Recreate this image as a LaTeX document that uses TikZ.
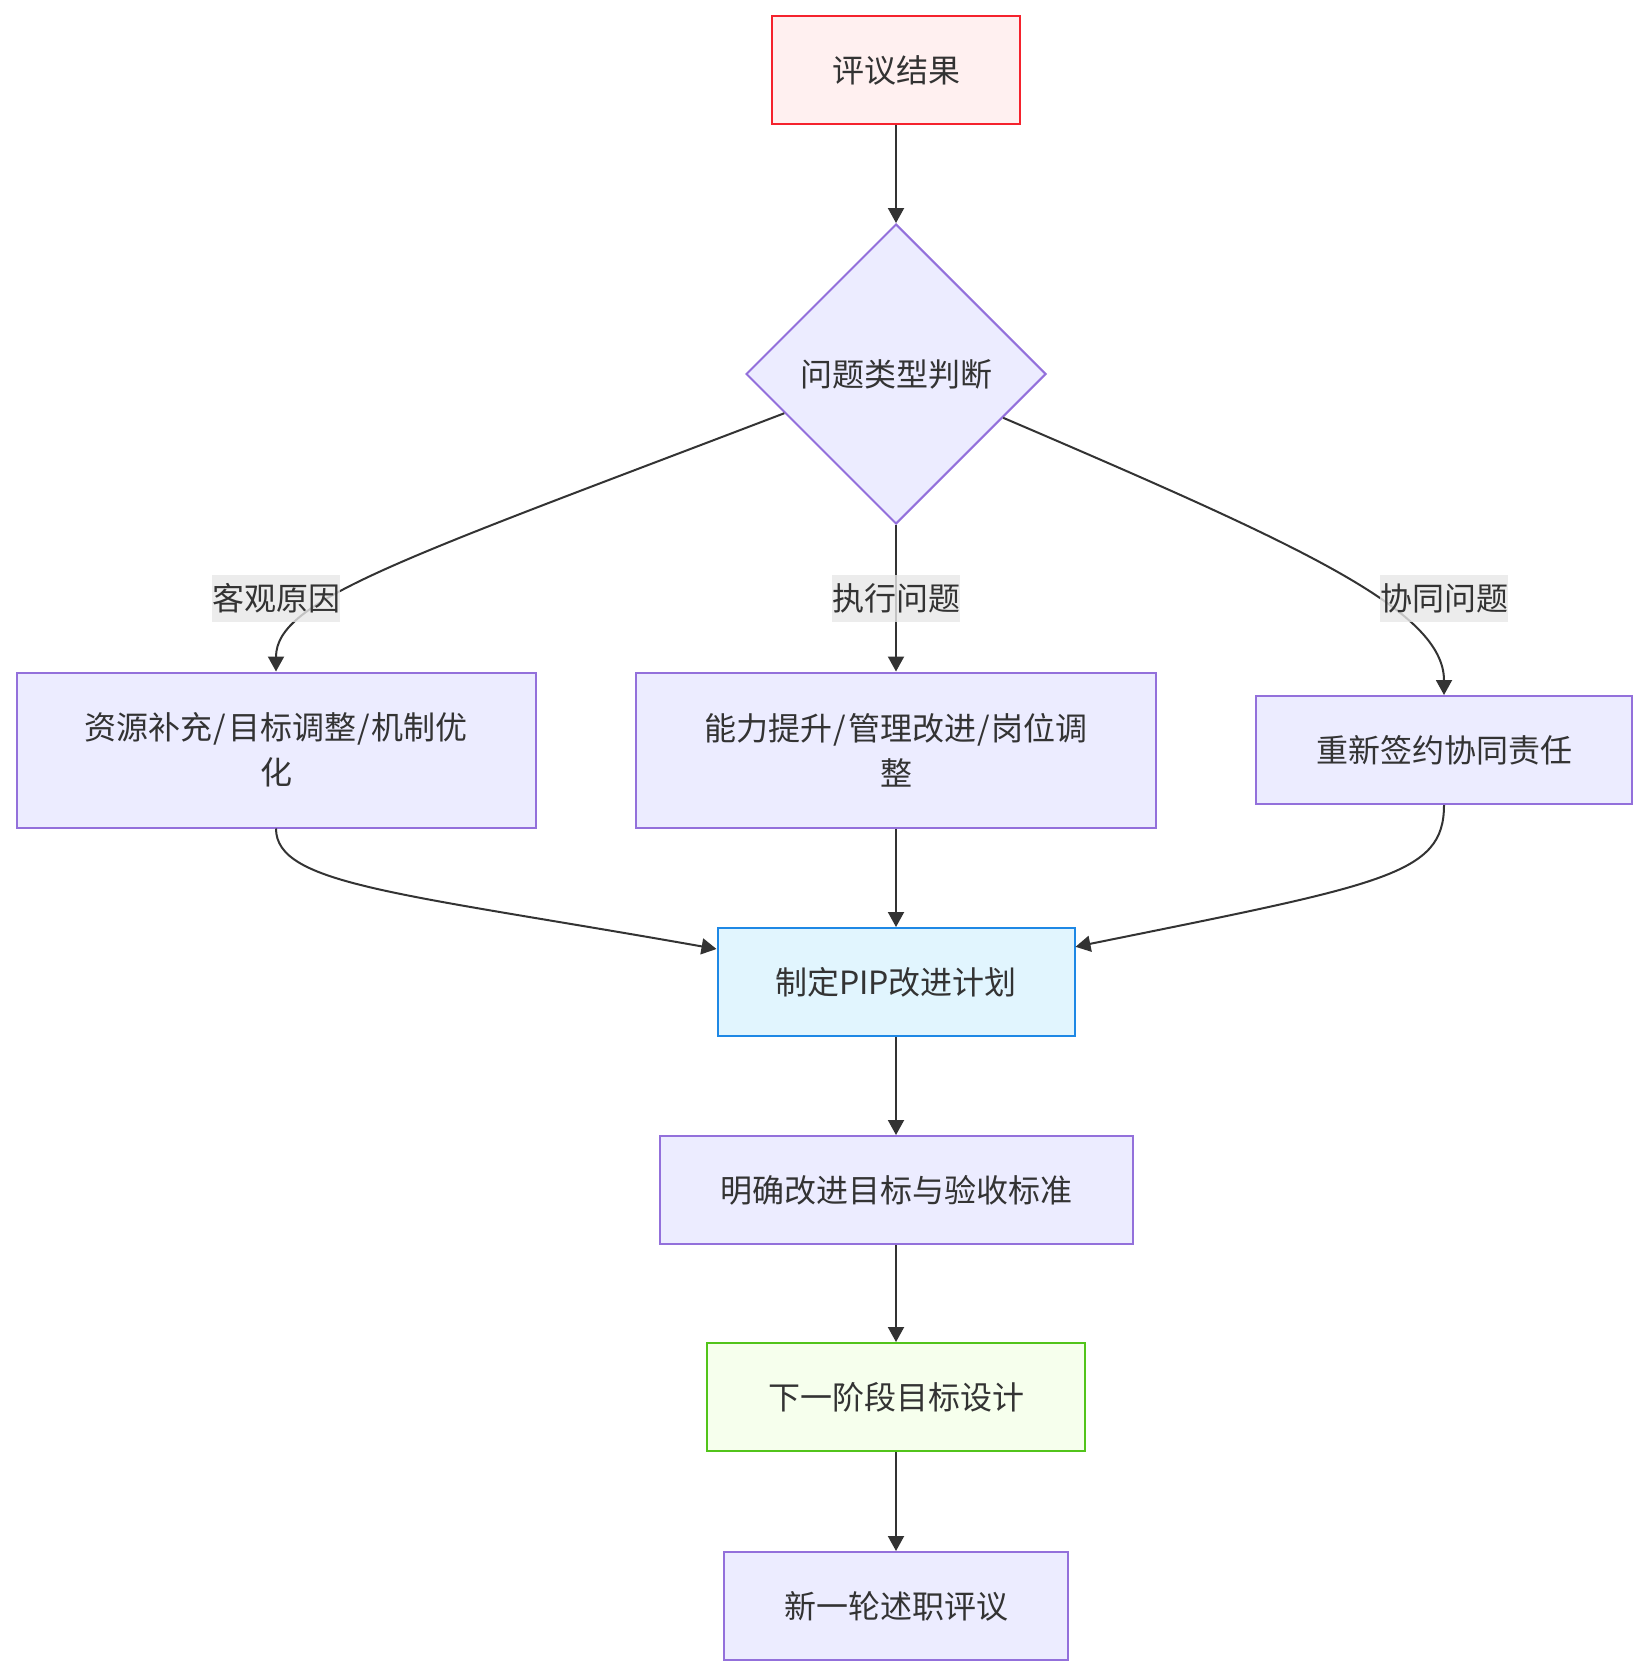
\documentclass[tikz,border=0pt]{standalone}
\usepackage{fontspec}
\setmainfont{Noto Sans CJK SC}
\usetikzlibrary{arrows.meta,shapes.geometric,calc}
\definecolor{defFill}{HTML}{ECECFF}
\definecolor{defLine}{HTML}{9370DB}
\definecolor{redFill}{HTML}{FFF0F0}
\definecolor{redLine}{HTML}{F5222D}
\definecolor{blueFill}{HTML}{E1F5FE}
\definecolor{blueLine}{HTML}{1E88E5}
\definecolor{greenFill}{HTML}{F6FFED}
\definecolor{greenLine}{HTML}{52C41A}
\definecolor{txt}{HTML}{333333}
\definecolor{edge}{HTML}{333333}
\definecolor{lblFill}{HTML}{E8E8E8}
\newcommand{\slsh}{\kern0.8pt/\kern0.8pt}
\begin{document}
\begin{tikzpicture}[x=0.5pt,y=-0.5pt,
  base/.style={line width=1pt, inner sep=0pt, text=txt, align=center,
    font=\fontsize{16}{22.5}\selectfont},
  box/.style={base, draw=defLine, fill=defFill, minimum height=54pt},
  redbox/.style={base, draw=redLine, fill=redFill, minimum height=54pt},
  bluebox/.style={base, draw=blueLine, fill=blueFill, minimum height=54pt},
  greenbox/.style={base, draw=greenLine, fill=greenFill, minimum height=54pt},
  decision/.style={base, diamond, aspect=1, draw=defLine, fill=defFill, minimum width=150pt, minimum height=150pt},
  lbl/.style={text=txt, fill=lblFill, fill opacity=0.8, text opacity=1, inner xsep=0pt, inner ysep=0pt,
    minimum height=23.5pt, font=\fontsize{16}{22.5}\selectfont},
  arr/.style={draw=edge, line width=1pt, -{Triangle[length=7.5pt,width=8pt]}}
]
\useasboundingbox (0,0) rectangle (1648,1676);
\fill[white] (0,0) rectangle (1648,1676);

\node[redbox, minimum width=124pt] (a) at (896,70) {评议结果};
\node[decision] (d) at (896,374) {问题类型判断};
\node[box, minimum width=259.5pt, minimum height=77.5pt] (b1) at (276,750) {资源补充\slsh 目标调整\slsh 机制优\\化};
\node[box, minimum width=260pt, minimum height=77.5pt] (b2) at (896,750) {能力提升\slsh 管理改进\slsh 岗位调\\整};
\node[box, minimum width=188pt] (b3) at (1444,750) {重新签约协同责任};
\node[bluebox, minimum width=178.5pt] (p) at (896,982) {制定PIP改进计划};
\node[box, minimum width=236.5pt] (m) at (896,1190) {明确改进目标与验收标准};
\node[greenbox, minimum width=189pt] (n) at (896,1397) {下一阶段目标设计};
\node[box, minimum width=172pt] (r) at (896,1606) {新一轮述职评议};

\coordinate (dl) at ($(d.west)!0.26!(d.south)$);
\coordinate (dr) at ($(d.east)!0.29!(d.south)$);
\coordinate (pl) at ($(p.north west)!0.2!(p.south west)$);
\coordinate (pr) at ($(p.north east)!0.18!(p.south east)$);

\draw[arr] (a) -- (d.north);
\draw[arr] (dl) .. controls (400,560) and (276,600) .. (b1.north);
\draw[arr] (d.south) -- (b2.north);
\draw[arr] (dr) .. controls (1300,545) and (1444,610) .. (b3.north);

\node[lbl] (l1) at (276,598) {客观原因};
\node[lbl] (l2) at (896,598) {执行问题};
\node[lbl] (l3) at (1444,598) {协同问题};

\draw[arr] (b1.south) .. controls (276,885) and (400,893) .. (pl);
\draw[arr] (b2.south) -- (p.north);
\draw[arr] (b3.south) .. controls (1444,875) and (1385,884) .. (pr);
\draw[arr] (p.south) -- (m.north);
\draw[arr] (m.south) -- (n.north);
\draw[arr] (n.south) -- (r.north);
\end{tikzpicture}
\end{document}
